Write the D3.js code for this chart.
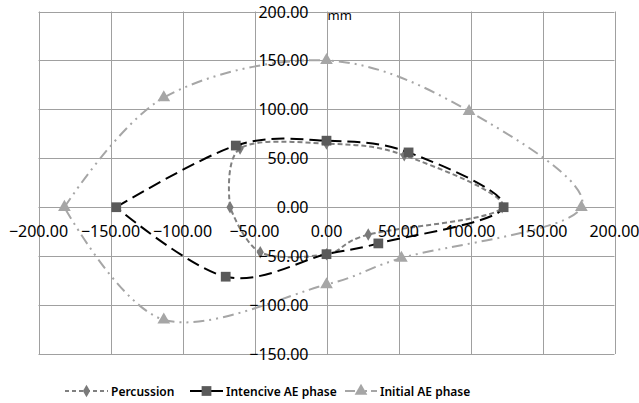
<!DOCTYPE html>
<html>
<head>
<meta charset="utf-8">
<script src="https://cdn.jsdelivr.net/npm/d3@7"></script>
<style>
  body { margin: 0; background: #fff; }
  text { font-family: "Noto Sans", sans-serif; fill: #000; }
</style>
</head>
<body>
<div id="chart"></div>
<script>
// values (mm); first point repeated to close the loop
var percussionX = [-67, -60, 0, 54, 122, 29, 0, -46, -67];
var percussionY = [0, 60, 65, 53, 0, -28, -48, -46, 0];
var intensiveX = [-146, -63, 0, 57, 123, 36, 0, -70, -146];
var intensiveY = [0, 63, 68, 56, 0, -37, -48, -71, 0];
var initialX = [-182, -113, 0, 99, 177, 52, 0, -113, -182];
var initialY = [0, 112, 150, 98, 0, -52, -79, -115, 0];

var xTicks = [-200, -150, -100, -50, 0, 50, 100, 150, 200];
var yTicks = [-150, -100, -50, 0, 50, 100, 150, 200];
var seriesNames = ["Percussion", "Intencive AE phase", "Initial AE phase"];

var width = 639, height = 403;

var svg = d3.select("#chart").append("svg")
    .attr("width", width)
    .attr("height", height);

// Set the ranges
var x = d3.scaleLinear().domain([-200, 200]).range([38.5, 614.5]);
var y = d3.scaleLinear().domain([-150, 200]).range([354, 11.5]);

// grid
var grid = svg.append("g").attr("stroke", "#a0a0a0").attr("stroke-width", 1);
grid.selectAll(".vx").data(xTicks).enter().append("line")
    .attr("x1", function(d) { return Math.round(x(d)) + 0.5; })
    .attr("x2", function(d) { return Math.round(x(d)) + 0.5; })
    .attr("y1", y(200)).attr("y2", y(-150));
grid.selectAll(".hy").data(yTicks).enter().append("line")
    .attr("y1", function(d) { return Math.round(y(d)) + 0.5; })
    .attr("y2", function(d) { return Math.round(y(d)) + 0.5; })
    .attr("x1", x(-200)).attr("x2", x(200));

// series
var series = [
  { name: seriesNames[0], xs: percussionX, ys: percussionY, color: "#808080", dash: "5,3", marker: "diamond", mcolor: "#7a7a7a" },
  { name: seriesNames[1], xs: intensiveX, ys: intensiveY, color: "#000000", dash: "13,6", marker: "square", mcolor: "#5a5a5a" },
  { name: seriesNames[2], xs: initialX, ys: initialY, color: "#a6a6a6", dash: "11,5,2,5,2,5", marker: "triangle", mcolor: "#a6a6a6" }
];

var symbolType = { diamond: d3.symbolDiamond, square: d3.symbolSquare, triangle: d3.symbolTriangle };
var symbolSize = { diamond: 45, square: 95, triangle: 70 };

var line = d3.line()
    .x(function(d) { return x(d[0]); })
    .y(function(d) { return y(d[1]); })
    .curve(d3.curveCardinal.tension(0));

series.forEach(function(s) {
  var pts = s.xs.map(function(v, i) { return [v, s.ys[i]]; });
  svg.append("path")
      .datum(pts)
      .attr("fill", "none")
      .attr("stroke", s.color)
      .attr("stroke-width", 2)
      .attr("stroke-dasharray", s.dash)
      .attr("d", line);
  svg.append("g").selectAll("path").data(pts.slice(0, -1)).enter().append("path")
      .attr("transform", function(d) { return "translate(" + x(d[0]) + "," + y(d[1]) + ")"; })
      .attr("fill", s.mcolor)
      .attr("d", d3.symbol().type(symbolType[s.marker]).size(symbolSize[s.marker]));
});

// axis labels
var fmt = d3.format(".2f");
svg.append("g").selectAll("text").data(xTicks).enter().append("text")
    .attr("x", function(d) { return x(d); })
    .attr("y", y(0) + 30)
    .attr("text-anchor", "middle")
    .style("font-size", "16px")
    .text(fmt);
svg.append("g").selectAll("text").data(yTicks).enter().append("text")
    .attr("x", x(0) - 18)
    .attr("y", function(d) { return y(d) + 6; })
    .attr("text-anchor", "end")
    .style("font-size", "16px")
    .text(fmt);
svg.append("text")
    .attr("x", x(0) + 1)
    .attr("y", 20)
    .style("font-size", "13px")
    .text("mm");

// legend
var legendX = [65, 190, 345];
var legendLen = [43, 33, 32];
var leg = svg.append("g");
series.forEach(function(s, i) {
  var lx = legendX[i], ly = 391, len = legendLen[i];
  leg.append("line")
      .attr("x1", lx).attr("x2", lx + len)
      .attr("y1", ly).attr("y2", ly)
      .attr("stroke", s.color)
      .attr("stroke-width", 2)
      .attr("stroke-dasharray", i === 1 ? null : (i === 0 ? "4,3" : "10,4,2,4,2,4"));
  leg.append("path")
      .attr("transform", "translate(" + (lx + len / 2) + "," + ly + ")")
      .attr("fill", s.mcolor)
      .attr("d", d3.symbol().type(symbolType[s.marker]).size(symbolSize[s.marker]));
  leg.append("text")
      .attr("x", lx + len + 3)
      .attr("y", ly + 5)
      .style("font-size", "12px")
      .style("font-weight", "600")
      .text(s.name);
});
</script>
</body>
</html>
